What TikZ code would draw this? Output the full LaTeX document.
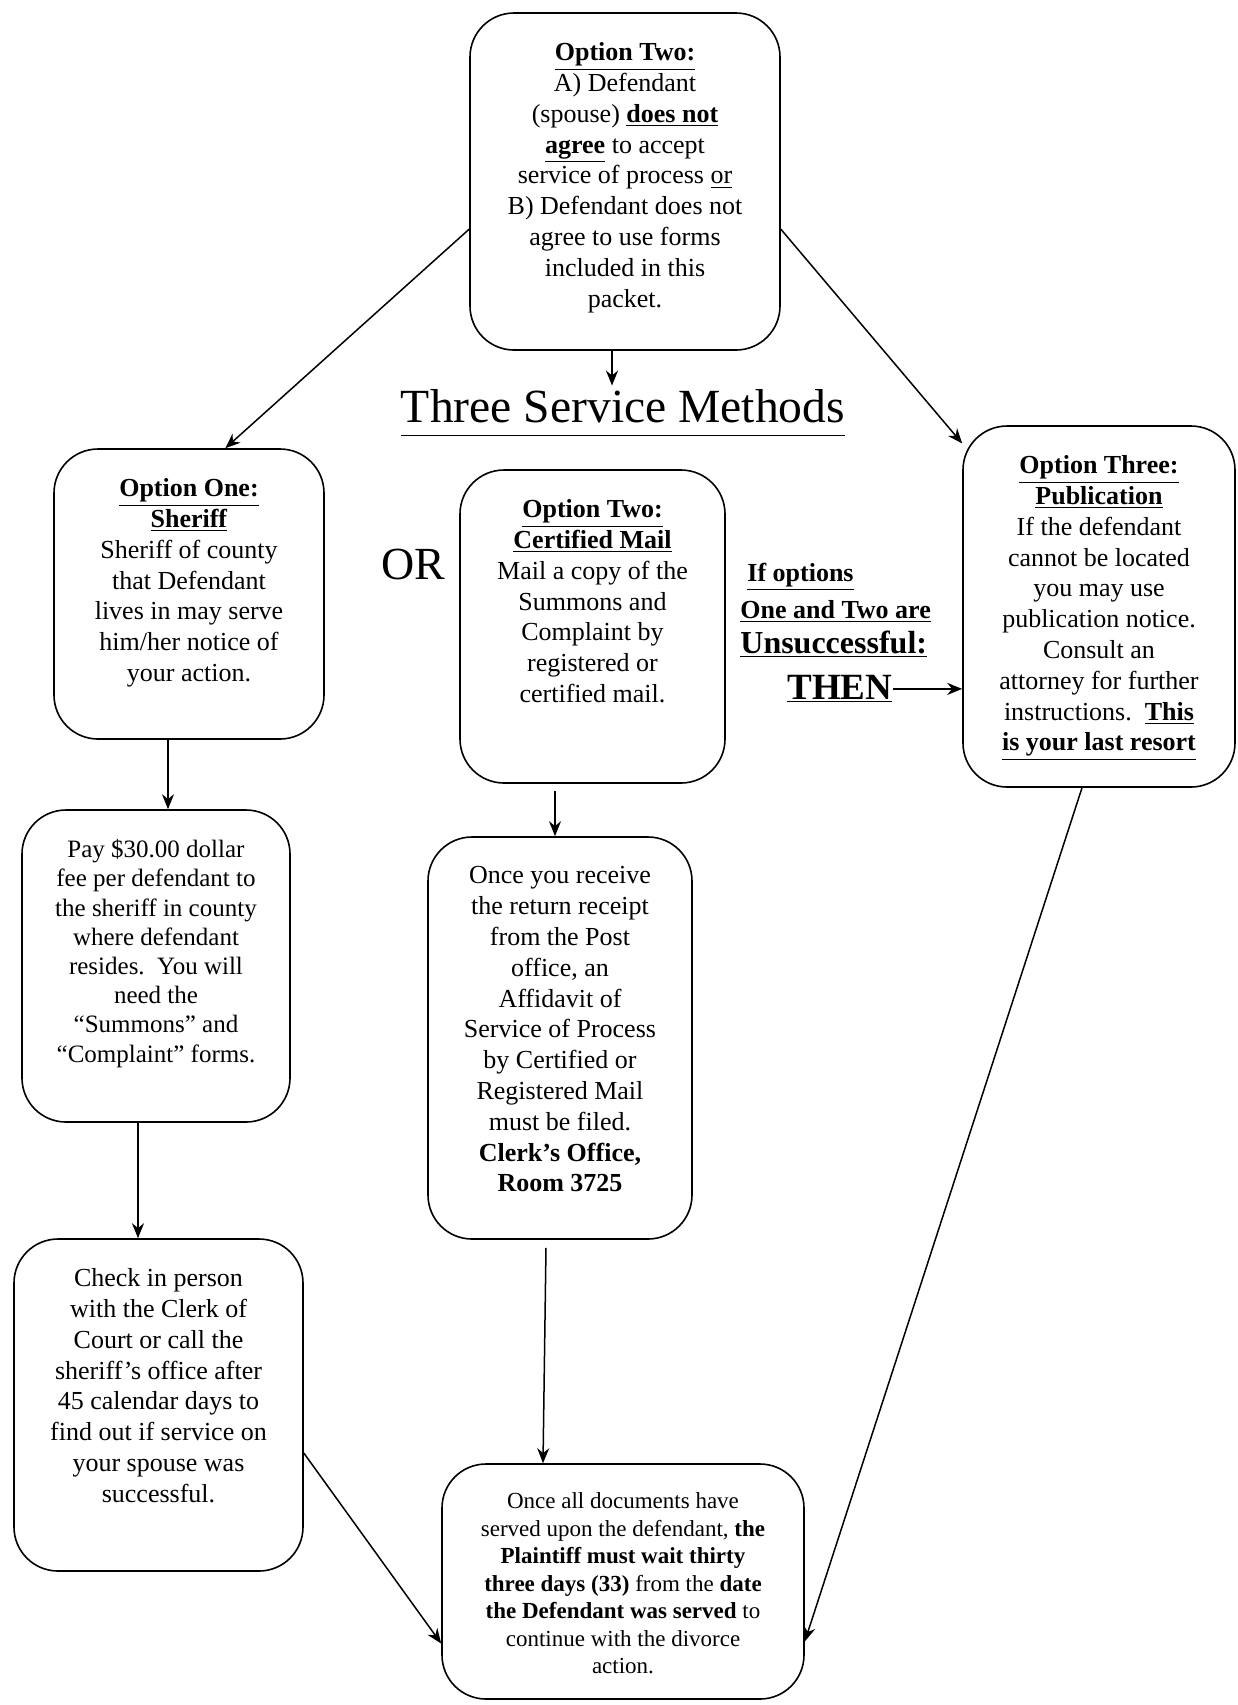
\documentclass[tikz,border=0pt]{standalone}
\usepackage{fontspec}
\setmainfont{Liberation Serif}
\usetikzlibrary{arrows.meta}

\tikzset{
  roundbox/.style={draw, line width=0.8pt, rounded corners=22pt},
  boxtext/.style={anchor=north, align=center, inner sep=0pt, font=\fontsize{13}{15.4}\selectfont},
  condtext/.style={anchor=base west, inner sep=0pt, font=\bfseries\fontsize{13}{15}\selectfont},
  flow/.style={->, line width=0.75pt},
}

\begin{document}
\begin{tikzpicture}[x=0.5pt, y=-0.5pt, >={Stealth[length=7.5pt,width=6pt]}]
  \useasboundingbox (0,0) rectangle (1238,1705);

  % 1. rounded boxes (frames only, text placed below their top edge)
  \node[roundbox, minimum width=155pt, minimum height=168.5pt] (top) at (625,181.5) {};
  \node[roundbox, minimum width=135pt, minimum height=145pt] (opt1) at (189,594) {};
  \node[roundbox, minimum width=132.5pt, minimum height=156.5pt] (cert) at (592.5,626.5) {};
  \node[roundbox, minimum width=136pt, minimum height=180.5pt] (opt3) at (1099,606.5) {};
  \node[roundbox, minimum width=134pt, minimum height=156pt] (pay) at (156,966) {};
  \node[roundbox, minimum width=132pt, minimum height=201pt] (receipt) at (560,1038) {};
  \node[roundbox, minimum width=144.5pt, minimum height=166pt] (check) at (158.5,1405) {};
  \node[roundbox, minimum width=181pt, minimum height=117.5pt] (final) at (623,1581.5) {};

  % 2. box texts
  \node[boxtext] (toptext) at ([yshift=-15pt]top.north) {\underline{\textbf{Option Two:}}\\
    A) Defendant\\
    (spouse) \underline{\textbf{does not}}\\
    \underline{\textbf{agree}} to accept\\
    service of process \underline{or}\\
    B) Defendant does not\\
    agree to use forms\\
    included in this\\
    packet.};
  \node[boxtext] (opt1text) at ([yshift=-15pt]opt1.north) {\underline{\textbf{Option One:}}\\
    \underline{\textbf{Sheriff}}\\
    Sheriff of county\\
    that Defendant\\
    lives in may serve\\
    him/her notice of\\
    your action.};
  \node[boxtext] (certtext) at ([yshift=-15pt]cert.north) {\underline{\textbf{Option Two:}}\\
    \underline{\textbf{Certified Mail}}\\
    Mail a copy of the\\
    Summons and\\
    Complaint by\\
    registered or\\
    certified mail.};
  \node[boxtext] (opt3text) at ([yshift=-15pt]opt3.north) {\underline{\textbf{Option Three:}}\\
    \underline{\textbf{Publication}}\\
    If the defendant\\
    cannot be located\\
    you may use\\
    publication notice.\\
    Consult an\\
    attorney for further\\
    instructions.\ \ \underline{\textbf{This}}\\
    \underline{\textbf{is your last resort}}};
  \node[boxtext, font=\fontsize{12.5}{14.6}\selectfont] (paytext) at ([yshift=-15pt]pay.north) {Pay \$30.00 dollar\\
    fee per defendant to\\
    the sheriff in county\\
    where defendant\\
    resides.\ \ You will\\
    need the\\
    “Summons” and\\
    “Complaint” forms.};
  \node[boxtext] (receipttext) at ([yshift=-15pt]receipt.north) {Once you receive\\
    the return receipt\\
    from the Post\\
    office, an\\
    Affidavit of\\
    Service of Process\\
    by Certified or\\
    Registered Mail\\
    must be filed.\\
    \textbf{Clerk’s Office,}\\
    \textbf{Room 3725}};
  \node[boxtext] (checktext) at ([yshift=-15pt]check.north) {Check in person\\
    with the Clerk of\\
    Court or call the\\
    sheriff’s office after\\
    45 calendar days to\\
    find out if service on\\
    your spouse was\\
    successful.};
  \node[boxtext, font=\fontsize{11.5}{13.75}\selectfont] (finaltext) at ([yshift=-14.5pt]final.north) {Once all documents have\\
    served upon the defendant, \textbf{the}\\
    \textbf{Plaintiff must wait thirty}\\
    \textbf{three days (33)} from the \textbf{date}\\
    \textbf{the Defendant was served} to\\
    continue with the divorce\\
    action.};

  % 3. free labels (title, OR, condition for option three)
  \node[anchor=base, inner sep=1.5pt, font=\fontsize{23.8}{28}\selectfont] (title) at (623,422) {\underline{Three Service Methods\vphantom{y}}};
  \node[anchor=base, inner sep=0pt, font=\fontsize{23}{26}\selectfont] (or) at (413,579) {OR};
  \node[condtext] (ifopt) at (747,581) {\underline{If options}};
  \node[condtext] (onetwo) at (740,618) {\underline{One and Two are}};
  \node[condtext, font=\bfseries\fontsize{16}{18}\selectfont] (unsucc) at (740,653) {\underline{Unsuccessful:}};
  \node[condtext, font=\bfseries\fontsize{18.5}{20}\selectfont] (then) at (787,699) {\underline{THEN}};

  % 4. connectors
  \draw[flow] ([xshift=-6.5pt]top.south) coordinate (a0) -- (a0 |- title.north);
  \draw[flow] (top.197) -- (opt1.76);
  \draw[flow] (top.-17) -- (opt3.130);
  \draw[flow] ([xshift=-10.5pt]opt1.south) coordinate (a1) -- (a1 |- pay.north);
  \draw[flow] ([xshift=-9pt]pay.south) coordinate (a2) -- (a2 |- check.north);
  \draw[flow] ([xshift=-18.75pt,yshift=-3.5pt]cert.south) coordinate (a3) -- (a3 |- receipt.north);
  \draw[flow] ([xshift=-7pt,yshift=-4pt]receipt.south) -- ([xshift=-40pt]final.north);
  \draw[flow] ([yshift=-24pt]check.east) -- ([yshift=-31pt]final.west);
  \draw[flow] ([xshift=-8.5pt]opt3.south) -- ([yshift=-30pt]final.east);
  \draw[flow] (then.east) -- (then.east -| opt3.west);
\end{tikzpicture}
\end{document}
